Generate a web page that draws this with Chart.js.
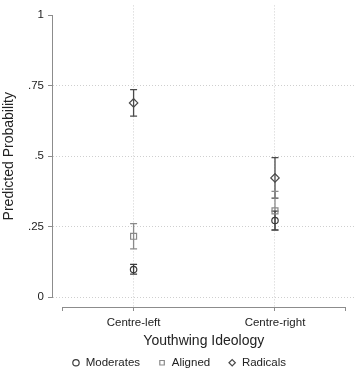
<!DOCTYPE html>
<html>
<head>
<meta charset="utf-8">
<script src="https://cdn.jsdelivr.net/npm/chart.js@4.4.1/dist/chart.umd.min.js"></script>
<style>
  html, body { margin: 0; padding: 0; background: #fff; }
  #wrap { width: 360px; height: 372px; position: relative; }
</style>
</head>
<body>
<div id="wrap"><canvas id="chart"></canvas></div>
<script>
const categories = ["Centre-left", "Centre-right"];
const groups = ["Moderates", "Aligned", "Radicals"];

// point estimates + CI bounds, one value per category
const moderates = [0.098, 0.272];
const moderatesLow = [0.082, 0.239];
const moderatesHigh = [0.116, 0.305];
const aligned = [0.216, 0.306];
const alignedLow = [0.171, 0.237];
const alignedHigh = [0.261, 0.375];
const radicals = [0.689, 0.423];
const radicalsLow = [0.642, 0.351];
const radicalsHigh = [0.736, 0.495];

const yTicks = [0, 0.25, 0.5, 0.75, 1];
const yTickLabels = ["0", ".25", ".5", ".75", "1"];
const xTicks = [0.5, 1, 2, 2.5];

Chart.defaults.font.family = "'Liberation Sans', Arial, Helvetica, sans-serif";
Chart.defaults.color = "#222";

const axisGrey = "#8c8c8c";
const gridGrey = "#cfcfcf";
const clear = "rgba(0,0,0,0)";

const looks = [
  { shape: "circle", radius: 3.2, color: "#3a3a3a" },
  { shape: "rect", radius: 4.2, color: "#8a8a8a" },
  { shape: "rectRot", radius: 4.2, color: "#4a4a4a" },
];
const series = [
  [moderates, moderatesLow, moderatesHigh],
  [aligned, alignedLow, alignedHigh],
  [radicals, radicalsLow, radicalsHigh],
];

const datasets = [];
series.forEach(([est], g) => {
  datasets.push({
    label: groups[g],
    data: est.map((v, i) => ({ x: i + 1, y: v })),
    pointStyle: looks[g].shape,
    pointRadius: looks[g].radius,
    pointHoverRadius: looks[g].radius,
    backgroundColor: clear,
    borderColor: looks[g].color,
    borderWidth: 1.2,
    pointBorderWidth: 1.2,
  });
});
// error bars: one little two-point line per group and category
series.forEach(([est, lo, hi], g) => {
  categories.forEach((c, i) => {
    datasets.push({
      label: "ci",
      data: [{ x: i + 1, y: lo[i] }, { x: i + 1, y: hi[i] }],
      showLine: true,
      borderColor: looks[g].color,
      borderWidth: 1.3,
      pointStyle: "line",
      pointRadius: 3.5,
      pointHoverRadius: 3.5,
      pointBorderColor: looks[g].color,
      pointBorderWidth: 1.3,
      backgroundColor: clear,
    });
  });
});

// stata style axis lines that only cover the data range
const axisLines = {
  id: "axisLines",
  beforeDatasetsDraw(chart) {
    const { ctx, chartArea, scales: { x, y } } = chart;
    const ax = Math.floor(chartArea.left) - 0.5;
    const ay = Math.round(chartArea.bottom) + 0.5;
    ctx.save();
    ctx.strokeStyle = axisGrey;
    ctx.lineWidth = 1;
    ctx.beginPath();
    ctx.moveTo(ax, y.getPixelForValue(yTicks[yTicks.length - 1]));
    ctx.lineTo(ax, y.getPixelForValue(yTicks[0]));
    ctx.moveTo(x.getPixelForValue(xTicks[0]), ay);
    ctx.lineTo(x.getPixelForValue(xTicks[xTicks.length - 1]), ay);
    ctx.stroke();
    ctx.restore();
  },
};

new Chart(document.getElementById("chart"), {
  type: "scatter",
  data: { datasets },
  plugins: [axisLines],
  options: {
    responsive: true,
    maintainAspectRatio: false,
    animation: false,
    layout: { padding: { left: 0, right: 2, top: 0, bottom: 0 } },
    plugins: {
      tooltip: { enabled: false },
      legend: {
        position: "bottom",
        maxHeight: 33,
        labels: {
          usePointStyle: true,
          boxWidth: 8,
          boxHeight: 4.5,
          padding: 18,
          font: { size: 11.5 },
          color: "#222",
          filter: (item) => item.datasetIndex < groups.length,
        },
      },
    },
    scales: {
      x: {
        type: "linear",
        min: 0.5 - 10 / 143,
        max: 2.5 + 9 / 143,
        afterBuildTicks: (s) => { s.ticks = xTicks.map((v) => ({ value: v })); },
        afterFit: (s) => { s.height = 32; s.paddingLeft = 0; s.paddingRight = 0; },
        ticks: {
          autoSkip: false,
          maxRotation: 0,
          padding: 5,
          font: { size: 11.5 },
          color: "#222",
          callback: (v) => (Number.isInteger(v) ? categories[v - 1] : ""),
        },
        grid: {
          color: (c) => (c.tick && Number.isInteger(c.tick.value) ? gridGrey : clear),
          tickColor: axisGrey,
          tickLength: 4,
          lineWidth: 1,
        },
        border: { display: false, dash: [1, 2] },
        title: {
          display: true,
          text: "Youthwing Ideology",
          font: { size: 14 },
          color: "#222",
          padding: { top: 0, bottom: -11 },
        },
      },
      y: {
        type: "linear",
        min: -10 / 287,
        max: 1 + 10 / 287,
        afterBuildTicks: (s) => { s.ticks = yTicks.map((v) => ({ value: v })); },
        afterFit: (s) => { s.width = 53; s.paddingTop = 0; s.paddingBottom = 0; },
        ticks: {
          autoSkip: false,
          padding: 4,
          font: { size: 11.5 },
          color: "#222",
          callback: (v) => yTickLabels[yTicks.indexOf(v)],
        },
        grid: {
          color: (c) => (c.tick && c.tick.value === 1 ? clear : gridGrey),
          tickColor: axisGrey,
          tickLength: 5,
          lineWidth: 1,
        },
        border: { display: false, dash: [1, 2] },
        title: {
          display: true,
          text: "Predicted Probability",
          font: { size: 14 },
          color: "#222",
          padding: { top: 0.5, bottom: 0 },
        },
      },
    },
  },
});
</script>
</body>
</html>
